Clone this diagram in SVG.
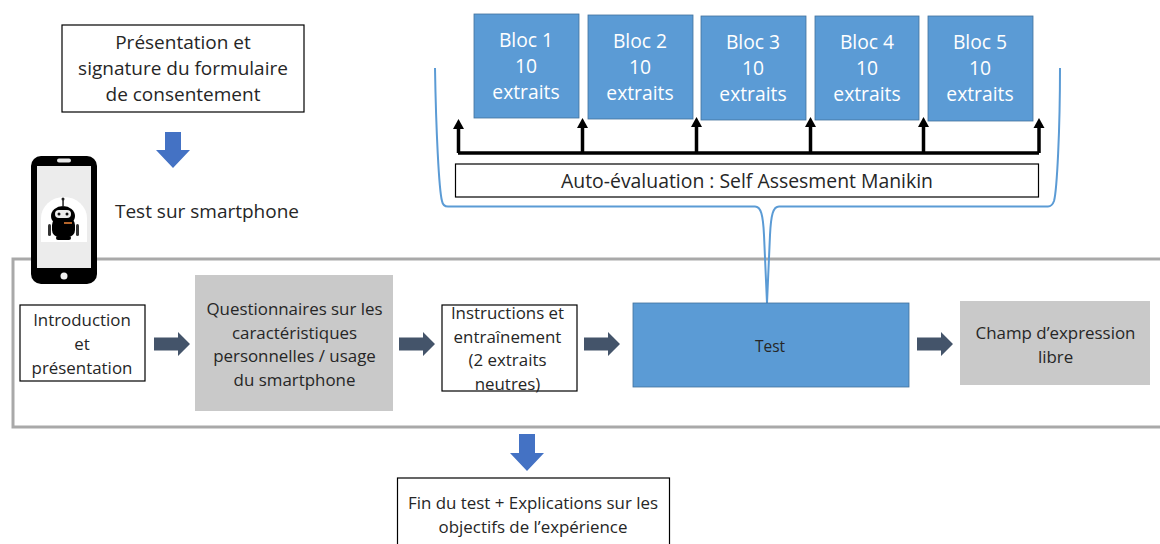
<svg xmlns="http://www.w3.org/2000/svg" width="1160" height="544" viewBox="0 0 1160 544">
<style>
text{font-family:"Open Sans","Noto Sans","Liberation Sans",sans-serif;text-anchor:middle;fill:#262626}
.t{font-size:19px}.w{font-size:19.300px;fill:#fff}.s{font-size:16.900px}
.box{fill:#fff;stroke:#000;stroke-width:1.200}
.bl{fill:#5b9bd5;stroke:#41719c;stroke-width:.8}
.gr{fill:#c9c9c9}
.ar{fill:#44546a}.da{fill:#4472c4}
.k{fill:none;stroke:#000;stroke-width:3.500}
.c{fill:none;stroke:#5b9bd5;stroke-width:2}
</style>
<defs>
<path id="g" d="M0-6.500H24V-12L36 0 24 12V6.500H0Z"/>
<path id="u" d="M0 0L5.500 10H-5.500Z"/>
</defs>
<g id="frame"><rect x="13" y="259" width="1160" height="168" fill="none" stroke="#a9a9a9" stroke-width="3"/></g>
<g id="connectors">
<path class="c" d="M435 68C436 130 439 190 442 201Q443 206.500 448 206.500H755C761 206.500 763 215 764 235 765 262 766 285 767 303"/>
<path class="c" d="M1060 68C1060 130 1057 190 1054 201Q1052 206.500 1048 206.500H779C773 206.500 771 215 770 235 769 262 768 285 767 303"/>
<path class="k" d="M458 153H1039"/>
<use href="#u" x="458.500" y="119"/><use href="#u" x="582.500" y="118"/><use href="#u" x="696.500" y="117"/><use href="#u" x="810.500" y="117"/><use href="#u" x="923.500" y="117"/><use href="#u" x="1039" y="118"/>
<path class="k" d="M458.500 153V127M582.500 153V126M696.500 153V125M810.500 153V125M923.500 153V125M1039 153V126"/>
<path class="da" d="M165 132H181V150H190L173 168 156 150H165Z"/>
<path class="da" d="M519 434H535V453H544L527 471 510 453H519Z"/>
<use class="ar" href="#g" x="154" y="344"/><use class="ar" href="#g" x="399" y="344"/><use class="ar" href="#g" x="584" y="344"/><use class="ar" href="#g" x="917" y="344"/>
</g>
<g id="consent"><rect class="box" x="62" y="25" width="242" height="87"/><text class="t" x="183" y="48.500">Présentation et</text><text class="t" x="183" y="74.500">signature du formulaire</text><text class="t" x="183" y="100.500">de consentement</text></g>
<g id="phone">
<rect x="31" y="156" width="66" height="128" rx="10" fill="#000"/>
<rect x="37" y="166" width="54" height="102" fill="#ececec"/>
<rect x="57" y="158.500" width="14" height="4" rx="2" fill="#e8e8e8"/>
<circle cx="64" cy="276" r="3.500" fill="#f2f2f2"/>
<path d="M41 242V218A23 21 0 0 1 87 218V242H41Z" fill="#fff"/>
<ellipse cx="63" cy="216" rx="12" ry="10" fill="#000"/>
<rect x="52" y="218" width="23" height="19" rx="7" fill="#000"/>
<rect x="48" y="224" width="3" height="12" rx="1.500" fill="#333"/><rect x="76" y="224" width="3" height="12" rx="1.500" fill="#333"/>
<rect x="55" y="210" width="16" height="8" rx="4" fill="#eee"/>
<circle cx="59" cy="214" r="1.500" fill="#111"/><circle cx="67" cy="214" r="1.500" fill="#111"/>
<rect x="64" y="222" width="8" height="2" fill="#b5652b"/>
<rect x="62.300" y="199" width="1.500" height="8" fill="#222"/><circle cx="63" cy="199" r="1.500" fill="#222"/>
<rect x="56" y="236" width="15" height="4" rx="2" fill="#000"/>
</g>
<g id="smartphone-label"><text class="t" x="207" y="217.500">Test sur smartphone</text></g>
<g id="bloc1"><rect class="bl" x="474" y="14" width="105" height="104"/><text class="w" x="526" y="47">Bloc 1</text><text class="w" x="526" y="73">10</text><text class="w" x="526" y="99">extraits</text></g>
<g id="bloc2"><rect class="bl" x="588" y="15" width="105" height="104"/><text class="w" x="640" y="48">Bloc 2</text><text class="w" x="640" y="74">10</text><text class="w" x="640" y="100">extraits</text></g>
<g id="bloc3"><rect class="bl" x="701" y="16" width="105" height="104"/><text class="w" x="753" y="49">Bloc 3</text><text class="w" x="753" y="75">10</text><text class="w" x="753" y="101">extraits</text></g>
<g id="bloc4"><rect class="bl" x="815" y="16" width="104" height="104"/><text class="w" x="867" y="49">Bloc 4</text><text class="w" x="867" y="75">10</text><text class="w" x="867" y="101">extraits</text></g>
<g id="bloc5"><rect class="bl" x="928" y="16" width="105" height="105"/><text class="w" x="980" y="49">Bloc 5</text><text class="w" x="980" y="75">10</text><text class="w" x="980" y="101">extraits</text></g>
<g id="sam"><rect class="box" x="455.500" y="164" width="583" height="33"/><text class="t" x="747" y="187.500" style="font-size:19.400px">Auto-évaluation : Self Assesment Manikin</text></g>
<g id="intro"><rect class="box" x="20" y="305" width="125" height="76"/><text class="s" x="82" y="325.500">Introduction</text><text class="s" x="82" y="349.500">et</text><text class="s" x="82" y="373.500">présentation</text></g>
<g id="questionnaires"><rect class="gr" x="195" y="275" width="198" height="136"/><text class="s" x="294.500" y="315">Questionnaires sur les</text><text class="s" x="294.500" y="338.500">caractéristiques</text><text class="s" x="294.500" y="362">personnelles / usage</text><text class="s" x="294.500" y="385.500">du smartphone</text></g>
<g id="instructions"><rect class="box" x="442" y="305" width="135" height="86"/><text class="s" x="507.500" y="318.500">Instructions et</text><text class="s" x="507.500" y="342.500">entraînement</text><text class="s" x="507.500" y="366">(2 extraits</text><text class="s" x="507.500" y="389.500">neutres)</text></g>
<g id="test"><rect class="bl" x="633" y="303" width="276" height="84"/><text x="770" y="351.500" style="font-size:15.500px">Test</text></g>
<g id="champ"><rect class="gr" x="960" y="301" width="190" height="84"/><text class="s" x="1055.500" y="338.500">Champ d’expression</text><text class="s" x="1055.500" y="362.500">libre</text></g>
<g id="fin"><rect class="box" x="397.500" y="478" width="272" height="70"/><text class="s" x="533" y="508.500">Fin du test + Explications sur les</text><text class="s" x="533" y="532.500">objectifs de l’expérience</text></g>
</svg>
